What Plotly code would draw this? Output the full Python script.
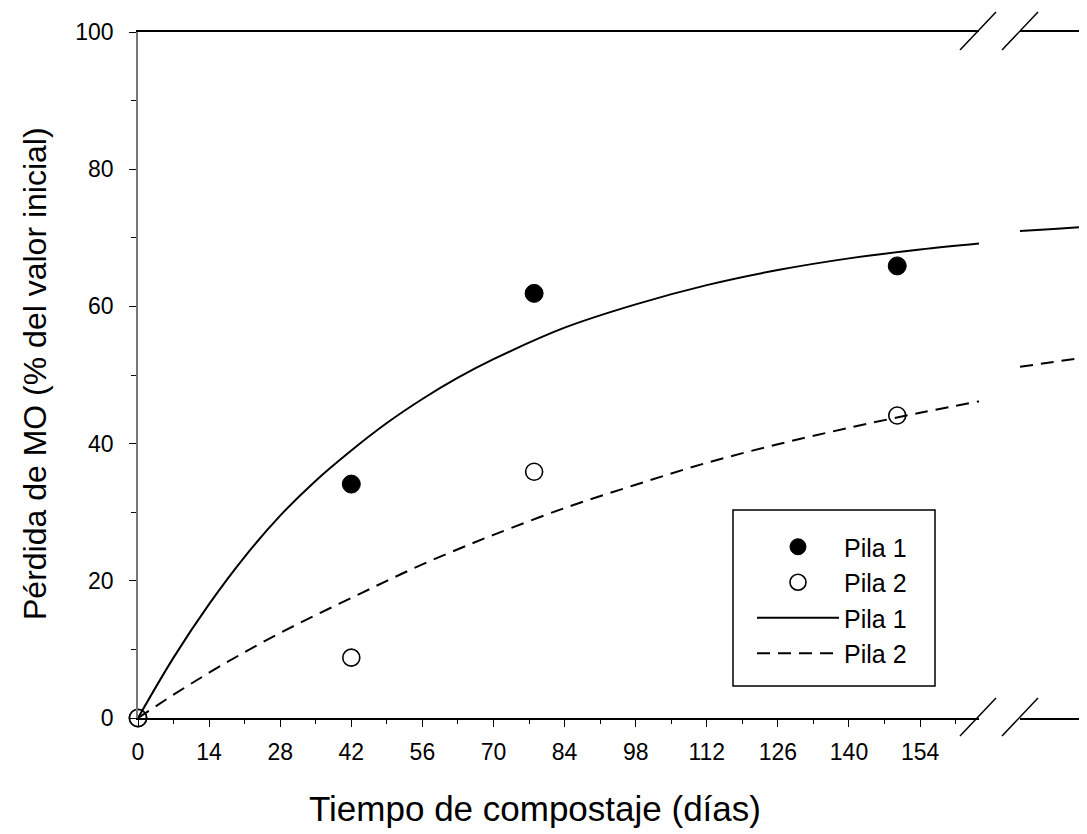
import plotly.graph_objects as go

# Observed data
obs_days = [0, 42, 78, 149.5]
pila1_obs = [0, 34.1, 61.9, 65.9]
pila2_obs = [0, 8.8, 35.9, 44.1]

# Fitted curves (left segment)
fit_days = [0, 7, 14, 21, 28, 35, 42, 49, 56, 63, 70, 84, 98, 112, 126, 140, 154, 166]
pila1_fit = [0, 8.8, 16.6, 23.5, 29.5, 34.6, 39.0, 43.0, 46.5, 49.6, 52.3, 56.9, 60.3, 63.1, 65.3, 67.0, 68.3, 69.2]
pila2_fit = [0, 3.4, 6.6, 9.6, 12.4, 15.0, 17.5, 20.0, 22.4, 24.6, 26.7, 30.6, 34.0, 37.2, 39.9, 42.3, 44.5, 46.2]

# Segment after the axis break
fit_days_b = [200, 220, 240]
pila1_fit_b = [71.0, 71.3, 71.6]
pila2_fit_b = [51.2, 51.9, 52.6]

x_ticks = [0, 14, 28, 42, 56, 70, 84, 98, 112, 126, 140, 154]
y_ticks = [0, 20, 40, 60, 80, 100]

OFF = 8  # page body margin
W, H = 1087 - OFF, 834 - OFF
L, R, T, B = 138 - OFF, 0, 32 - OFF, 834 - 718
PW, PH = W - L - R, H - T - B


def px(x):
    """page pixel x -> paper"""
    return (x - OFF - L) / PW


def py(y):
    """page pixel y -> paper"""
    return (H - B - (y - OFF)) / PH


FONT = "Liberation Sans, Arial, sans-serif"

fig = go.Figure()
fig.add_trace(go.Scatter(x=obs_days, y=pila1_obs, mode="markers", name="Pila 1",
                         marker=dict(symbol="circle", size=18, color="black",
                                     line=dict(color="black", width=1)),
                         cliponaxis=False))
fig.add_trace(go.Scatter(x=obs_days, y=pila2_obs, mode="markers", name="Pila 2",
                         marker=dict(symbol="circle", size=17, color="white",
                                     line=dict(color="black", width=1.6)),
                         cliponaxis=False))
fig.add_trace(go.Scatter(x=fit_days, y=pila1_fit, mode="lines", name="Pila 1",
                         line=dict(color="black", width=2, shape="spline")))
fig.add_trace(go.Scatter(x=fit_days, y=pila2_fit, mode="lines", name="Pila 2",
                         line=dict(color="black", width=2, dash="13px,8px", shape="spline")))
fig.add_trace(go.Scatter(x=fit_days_b, y=pila1_fit_b, mode="lines", showlegend=False,
                         xaxis="x2", line=dict(color="black", width=2, shape="spline")))
fig.add_trace(go.Scatter(x=fit_days_b, y=pila2_fit_b, mode="lines", showlegend=False,
                         xaxis="x2", line=dict(color="black", width=2, dash="13px,8px", shape="spline")))

split_l = px(979)
split_r = px(1020)

fig.update_layout(
    width=W, height=H,
    margin=dict(l=L, r=R, t=T, b=B),
    paper_bgcolor="white", plot_bgcolor="white",
    font=dict(family=FONT, color="black", size=24),
    showlegend=True,
    legend=dict(x=px(752), y=py(524), xanchor="left", yanchor="top",
                borderwidth=0, bgcolor="rgba(0,0,0,0)",
                font=dict(size=25, family=FONT), itemwidth=82,
                tracegroupgap=0),
    xaxis=dict(domain=[0, split_l], range=[0, 165.6], tickvals=x_ticks,
               showline=True, linecolor="black", linewidth=1.5, mirror=True,
               ticks="outside", ticklen=7, tickcolor="black", tickwidth=1,
               minor=dict(dtick=7, ticks="outside", ticklen=4, tickcolor="black"),
               showgrid=False, zeroline=False, ticklabelstandoff=6,
               tickfont=dict(size=23, family=FONT)),
    xaxis2=dict(domain=[split_r, 1], range=[200, 240], anchor="y",
                showline=True, linecolor="black", linewidth=1.5, mirror=True,
                ticks="", showticklabels=False, showgrid=False, zeroline=False),
    yaxis=dict(range=[0, 100], tickvals=y_ticks, showline=True, linecolor="#777777",
               linewidth=1.5, ticks="outside", ticklen=7, tickcolor="black", tickwidth=1,
               minor=dict(dtick=10, ticks="outside", ticklen=5, tickcolor="black"),
               showgrid=False, zeroline=False, ticklabelstandoff=11,
               tickfont=dict(size=23, family=FONT)),
)

# Legend frame
fig.add_shape(type="rect", xref="paper", yref="paper",
              x0=px(733), x1=px(935), y0=py(686), y1=py(510),
              line=dict(color="black", width=1.5), fillcolor="rgba(0,0,0,0)")

# Axis titles
fig.add_annotation(text="Tiempo de compostaje (días)", xref="paper", yref="paper",
                   x=px(535), y=py(808), xanchor="center", yanchor="middle",
                   showarrow=False, font=dict(size=35, family=FONT))
fig.add_annotation(text="Pérdida de MO (% del valor inicial)", xref="paper", yref="paper",
                   x=px(35), y=py(374), xanchor="center", yanchor="middle", textangle=-90,
                   showarrow=False, font=dict(size=32, family=FONT))

# Axis break marks
for cx in (978, 1020):
    for cy in (32, 718):
        fig.add_shape(type="line", xref="paper", yref="paper",
                      x0=px(cx - 18), y0=py(cy + 18), x1=px(cx + 18), y1=py(cy - 20),
                      line=dict(color="black", width=1.5))

fig.write_html("out.html")
